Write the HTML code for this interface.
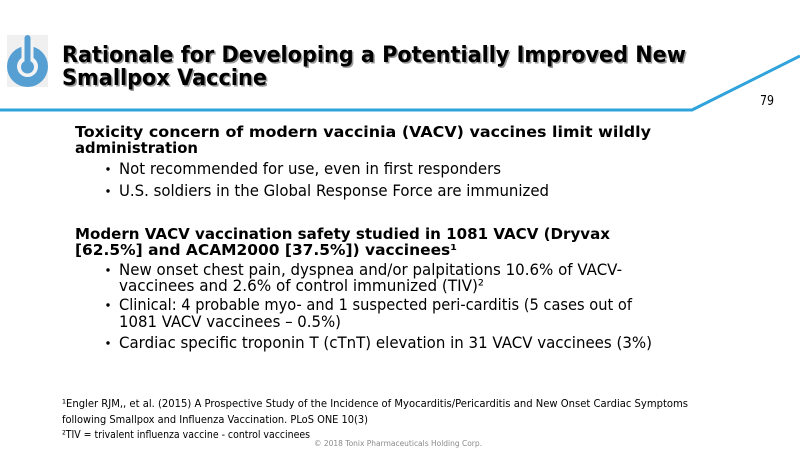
<!DOCTYPE html>
<html><head><meta charset="utf-8"><style>
html,body{margin:0;padding:0;background:#fff;}
svg{display:block;}
text{font-family:"DejaVu Sans","Liberation Sans",sans-serif;fill:#000;}
.b{font-weight:bold;}
</style></head><body>
<svg width="800" height="450" viewBox="0 0 800 450" xmlns="http://www.w3.org/2000/svg">
<rect width="800" height="450" fill="#fff"/>
<!-- logo -->
<rect x="7" y="35" width="41" height="52" fill="#f0f0f0"/>
<circle cx="27.5" cy="66.5" r="20.5" fill="#569fd3"/>
<circle cx="27.5" cy="66.5" r="10.5" fill="#f4f4f4"/>
<rect x="21.5" y="40" width="12" height="24" fill="#f4f4f4"/>
<circle cx="27.5" cy="67" r="6.5" fill="#569fd3"/>
<rect x="24.5" y="35" width="6" height="30" rx="3" fill="#569fd3"/>
<!-- title -->
<g class="b" font-size="22">
<text x="63.5" y="63.5" fill="#9a9a9a" style="fill:#9a9a9a" textLength="624" lengthAdjust="spacingAndGlyphs">Rationale for Developing a Potentially Improved New</text>
<text x="63.5" y="86.5" style="fill:#9a9a9a" textLength="205" lengthAdjust="spacingAndGlyphs">Smallpox Vaccine</text>
<text x="62" y="62" textLength="624" lengthAdjust="spacingAndGlyphs">Rationale for Developing a Potentially Improved New</text>
<text x="62" y="85" textLength="205" lengthAdjust="spacingAndGlyphs">Smallpox Vaccine</text>
</g>
<!-- blue line -->
<polyline points="0,110 692,110 800,56" fill="none" stroke="#2ea3dc" stroke-width="3"/>
<text x="760" y="105" font-size="13" textLength="14" lengthAdjust="spacingAndGlyphs">79</text>
<!-- body -->
<g class="b" font-size="15">
<text x="75" y="137" textLength="576" lengthAdjust="spacingAndGlyphs">Toxicity concern of modern vaccinia (VACV) vaccines limit wildly</text>
<text x="75" y="153" textLength="123" lengthAdjust="spacingAndGlyphs">administration</text>
<text x="75" y="239" textLength="535" lengthAdjust="spacingAndGlyphs">Modern VACV vaccination safety studied in 1081 VACV (Dryvax</text>
<text x="75" y="255" textLength="382" lengthAdjust="spacingAndGlyphs">[62.5%] and ACAM2000 [37.5%]) vaccinees¹</text>
</g>
<g font-size="16">
<text x="119" y="174" textLength="382" lengthAdjust="spacingAndGlyphs">Not recommended for use, even in first responders</text>
<text x="119" y="196" textLength="430" lengthAdjust="spacingAndGlyphs">U.S. soldiers in the Global Response Force are immunized</text>
<text x="119" y="275" textLength="503" lengthAdjust="spacingAndGlyphs">New onset chest pain, dyspnea and/or palpitations 10.6% of VACV-</text>
<text x="119" y="291" textLength="365" lengthAdjust="spacingAndGlyphs">vaccinees and 2.6% of control immunized (TIV)²</text>
<text x="119" y="310" textLength="513" lengthAdjust="spacingAndGlyphs">Clinical: 4 probable myo- and 1 suspected peri-carditis (5 cases out of</text>
<text x="119" y="327" textLength="222" lengthAdjust="spacingAndGlyphs">1081 VACV vaccinees – 0.5%)</text>
<text x="119" y="348" textLength="533" lengthAdjust="spacingAndGlyphs">Cardiac specific troponin T (cTnT) elevation in 31 VACV vaccinees (3%)</text>
</g>
<g fill="#000">
<circle cx="108" cy="169" r="1.7"/>
<circle cx="108" cy="191" r="1.7"/>
<circle cx="108" cy="270" r="1.7"/>
<circle cx="108" cy="305" r="1.7"/>
<circle cx="108" cy="343" r="1.7"/>
</g>
<!-- footnotes -->
<g font-size="11">
<text x="62" y="407" textLength="626" lengthAdjust="spacingAndGlyphs">¹Engler RJM,, et al. (2015) A Prospective Study of the Incidence of Myocarditis/Pericarditis and New Onset Cardiac Symptoms</text>
<text x="62" y="423" textLength="306" lengthAdjust="spacingAndGlyphs">following Smallpox and Influenza Vaccination. PLoS ONE 10(3)</text>
<text x="62" y="438" textLength="248" lengthAdjust="spacingAndGlyphs">²TIV = trivalent influenza vaccine - control vaccinees</text>
</g>
<text x="314" y="446" font-size="8" style="fill:#8a8a8a" textLength="168" lengthAdjust="spacingAndGlyphs">© 2018 Tonix Pharmaceuticals Holding Corp.</text>
</svg>
</body></html>
